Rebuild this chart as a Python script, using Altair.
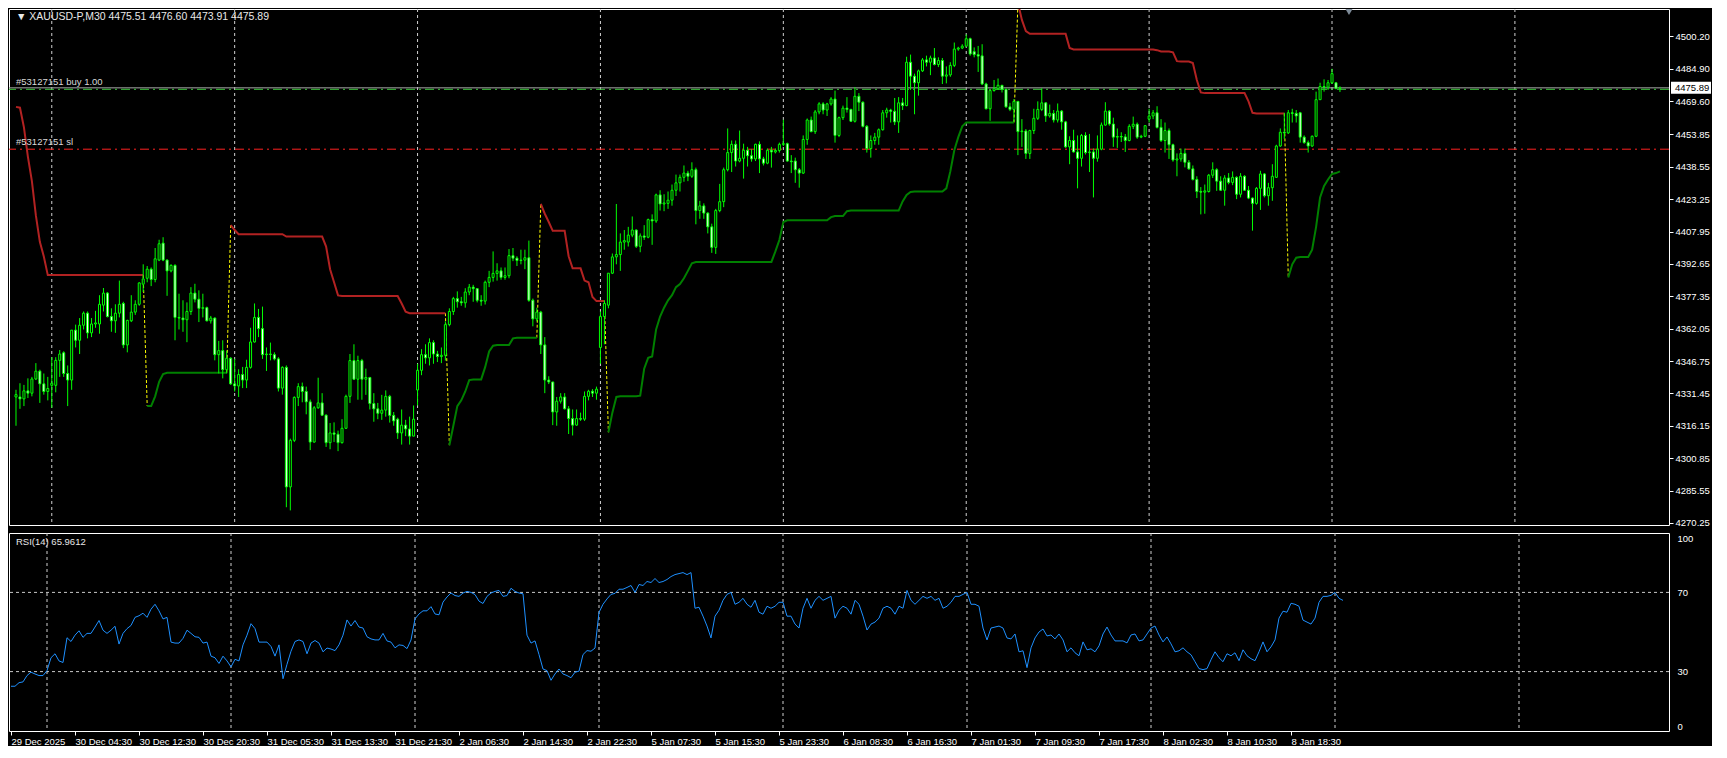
import json
import altair as alt
import pandas as pd

# ---------------- data ----------------
opens = [
4329.8,4329.8,4328.9,4332.7,4331.6,4338.3,4342.0,4336.0,4332.4,4335.3,
4335.3,4347.1,4350.7,4340.9,4337.8,4361.4,4356.6,4363.7,4369.4,4360.1,
4364.3,4364.3,4373.2,4378.9,4367.8,4365.8,4369.4,4374.0,4354.4,4365.8,
4369.9,4373.6,4383.1,4385.9,4390.2,4385.3,4394.5,4402.5,4394.5,4389.4,
4392.0,4367.4,4367.1,4366.3,4370.2,4378.9,4376.0,4371.7,4372.0,4365.8,
4367.1,4349.8,4351.7,4342.7,4348.1,4336.0,4335.0,4340.4,4337.8,4343.8,
4355.8,4367.4,4362.1,4349.8,4350.1,4349.8,4347.8,4334.0,4343.8,4287.3,
4309.3,4329.6,4334.7,4332.4,4327.5,4308.5,4324.7,4327.0,4321.2,4308.2,
4312.8,4312.2,4308.2,4315.0,4330.1,4347.0,4338.2,4347.0,4338.2,4339.0,
4326.7,4324.2,4322.1,4323.6,4330.1,4321.1,4319.3,4312.8,4316.5,4314.7,
4311.3,4333.1,4342.4,4349.8,4348.3,4355.5,4350.1,4348.9,4349.5,4364.0,
4370.2,4376.3,4374.8,4374.3,4379.4,4381.7,4381.0,4375.5,4375.1,4384.0,
4386.3,4388.2,4389.4,4386.3,4387.1,4396.6,4395.4,4394.3,4394.5,4395.6,
4375.5,4366.7,4369.9,4354.4,4337.8,4336.9,4322.7,4327.8,4329.8,4324.2,
4319.6,4316.5,4319.6,4319.3,4330.1,4332.5,4331.6,4353.2,4367.8,4373.2,
4388.3,4396.0,4397.1,4403.0,4403.0,4406.3,4408.7,4401.0,4405.9,4405.3,
4413.6,4413.0,4425.3,4421.0,4421.3,4422.8,4427.5,4431.0,4433.6,4435.6,
4434.1,4437.2,4417.9,4420.1,4416.7,4410.2,4400.5,4417.9,4422.1,4437.2,
4445.3,4449.2,4441.3,4442.6,4446.4,4443.8,4442.3,4449.2,4442.3,4440.3,
4446.4,4445.6,4446.3,4449.2,4449.5,4441.3,4441.3,4437.2,4435.6,4451.5,
4460.7,4455.2,4464.5,4468.3,4465.4,4468.3,4470.6,4453.4,4461.8,4466.3,
4465.7,4460.1,4471.9,4469.1,4457.7,4447.2,4451.0,4452.6,4456.1,4464.1,
4465.4,4464.8,4459.8,4468.8,4467.5,4488.0,4481.4,4478.3,4483.9,4489.1,
4488.0,4490.0,4486.9,4488.8,4481.4,4482.0,4486.5,4494.2,4494.7,4495.6,
4499.1,4493.0,4491.6,4491.0,4477.7,4466.0,4474.6,4475.5,4477.1,4475.2,
4466.9,4465.7,4469.5,4455.2,4455.5,4444.9,4455.7,4461.5,4465.7,4468.8,
4462.6,4463.8,4460.7,4464.9,4459.8,4448.0,4451.0,4445.6,4442.6,4453.4,
4445.3,4445.6,4442.6,4446.9,4458.3,4464.9,4458.8,4452.6,4452.9,4452.7,
4451.0,4457.7,4458.7,4452.6,4453.0,4461.1,4462.6,4464.1,4457.2,4451.0,
4455.7,4449.0,4441.8,4442.3,4444.9,4440.7,4437.6,4432.6,4426.9,4426.6,
4426.9,4434.6,4437.2,4431.8,4427.5,4433.3,4431.2,4433.6,4425.6,4434.1,
4427.5,4423.8,4421.3,4428.4,4435.2,4424.9,4428.7,4433.6,4448.4,4454.9,
4454.6,4464.1,4463.8,4464.1,4452.6,4450.0,4448.4,4453.0,4470.3,4476.5,
4476.2,4478.3,4478.3,4475.51]
highs = [
4333.2,4336.3,4335.5,4338.6,4339.3,4345.8,4342.7,4340.9,4339.3,4348.6,
4348.6,4352.0,4351.4,4344.7,4361.4,4364.0,4367.1,4370.2,4370.2,4367.1,
4370.5,4377.9,4381.3,4379.4,4371.7,4373.6,4384.8,4374.8,4366.3,4377.9,
4375.5,4384.0,4392.5,4391.7,4391.0,4400.2,4404.1,4405.3,4394.8,4392.5,
4392.5,4378.6,4375.5,4374.5,4381.7,4383.3,4380.2,4378.6,4372.5,4368.1,
4367.4,4356.3,4356.6,4351.7,4348.6,4347.8,4342.9,4344.0,4347.4,4362.5,
4374.0,4371.4,4372.5,4353.2,4355.5,4350.9,4348.6,4344.3,4344.7,4310.1,
4330.1,4336.3,4336.6,4334.7,4328.6,4325.5,4338.9,4331.6,4321.6,4317.5,
4317.8,4313.9,4319.3,4330.9,4350.1,4354.7,4349.3,4347.8,4343.2,4339.3,
4331.6,4327.0,4330.8,4332.9,4330.8,4322.7,4320.0,4323.9,4319.0,4320.5,
4325.8,4345.5,4352.4,4354.7,4357.5,4356.6,4351.6,4353.2,4365.5,4371.7,
4377.1,4379.7,4377.1,4381.2,4383.2,4382.8,4381.2,4377.9,4384.8,4389.4,
4398.6,4393.0,4391.0,4391.0,4399.7,4400.2,4396.3,4399.4,4399.4,4403.7,
4376.3,4372.0,4370.5,4358.1,4339.6,4336.9,4329.8,4331.6,4331.6,4325.5,
4323.9,4323.9,4322.4,4332.4,4333.2,4333.5,4334.7,4370.2,4375.5,4388.3,
4397.6,4421.0,4407.1,4408.7,4410.2,4415.1,4409.0,4407.1,4411.0,4414.1,
4416.1,4425.9,4427.5,4425.6,4426.9,4430.2,4434.9,4434.9,4439.2,4436.7,
4440.7,4438.2,4422.5,4421.3,4417.1,4411.7,4418.7,4430.5,4438.2,4456.7,
4451.0,4451.0,4455.7,4449.5,4448.0,4446.9,4449.5,4450.6,4443.3,4447.2,
4448.0,4447.2,4450.0,4460.8,4450.0,4444.1,4442.9,4438.0,4453.4,4461.4,
4462.3,4465.4,4469.1,4469.1,4468.8,4471.5,4474.6,4462.3,4467.5,4471.5,
4466.0,4476.2,4473.4,4469.5,4458.3,4453.4,4454.6,4456.7,4465.4,4466.5,
4466.0,4471.1,4471.5,4471.1,4490.6,4491.6,4482.6,4484.5,4490.0,4491.1,
4491.1,4494.7,4490.3,4490.0,4486.0,4488.0,4497.3,4495.3,4496.5,4501.1,
4499.6,4495.0,4495.7,4496.5,4478.3,4474.9,4479.6,4480.3,4477.2,4475.5,
4468.8,4470.6,4469.5,4461.1,4456.4,4456.1,4466.0,4469.5,4475.7,4469.1,
4468.0,4465.4,4468.5,4465.4,4460.3,4453.0,4456.1,4453.4,4454.1,4454.9,
4454.1,4447.2,4453.4,4459.5,4469.1,4465.4,4461.8,4456.7,4454.9,4454.1,
4458.7,4462.3,4459.5,4453.7,4458.3,4466.0,4465.4,4467.2,4461.1,4459.5,
4456.7,4449.5,4444.9,4447.2,4447.2,4441.8,4439.2,4434.1,4429.0,4430.2,
4435.2,4440.7,4437.9,4434.1,4434.6,4435.6,4436.4,4434.1,4435.6,4434.6,
4429.5,4424.1,4429.0,4436.7,4435.6,4431.0,4439.8,4449.0,4456.7,4464.1,
4465.4,4466.0,4465.4,4464.5,4453.4,4451.0,4453.4,4474.1,4478.3,4479.9,
4479.6,4484.9,4478.3,4476.60]
lows = [
4316.2,4324.2,4325.5,4329.3,4330.1,4337.8,4327.0,4330.9,4328.2,4324.7,
4332.0,4339.3,4339.3,4325.5,4333.2,4353.2,4350.1,4361.7,4357.5,4358.1,
4362.5,4359.7,4370.2,4367.4,4360.6,4360.1,4367.4,4352.9,4350.9,4365.2,
4368.6,4372.9,4379.4,4384.0,4382.2,4384.0,4394.0,4394.0,4377.6,4388.7,
4356.6,4361.7,4360.6,4355.7,4368.6,4374.5,4365.2,4367.4,4365.5,4364.5,
4347.1,4340.9,4338.6,4340.9,4335.5,4332.4,4329.8,4334.0,4334.0,4343.2,
4355.5,4358.1,4347.8,4342.1,4347.1,4347.1,4332.4,4330.9,4277.7,4276.2,
4308.5,4325.5,4327.3,4321.6,4304.7,4308.2,4324.2,4320.8,4306.2,4305.1,
4308.5,4304.2,4307.8,4314.7,4327.0,4337.8,4328.5,4328.5,4330.8,4323.9,
4318.1,4319.3,4319.0,4320.5,4317.7,4316.2,4310.0,4307.3,4311.3,4307.3,
4311.3,4325.8,4340.1,4345.5,4344.7,4345.5,4346.3,4345.8,4347.0,4363.2,
4368.6,4372.0,4372.9,4372.0,4377.9,4374.8,4374.5,4372.9,4373.5,4381.7,
4384.3,4384.8,4385.2,4385.2,4385.9,4394.0,4391.7,4392.5,4390.2,4374.8,
4363.2,4365.5,4350.1,4331.6,4335.9,4316.5,4316.2,4326.7,4323.9,4312.3,
4311.6,4316.2,4318.5,4318.5,4328.2,4329.8,4328.5,4345.5,4354.7,4371.7,
4387.9,4392.5,4389.4,4399.4,4400.9,4405.3,4400.2,4398.2,4404.0,4404.8,
4401.7,4412.1,4417.9,4417.6,4418.7,4420.2,4424.8,4426.9,4431.5,4431.8,
4433.3,4411.4,4414.0,4414.0,4407.1,4397.9,4397.4,4417.1,4419.5,4436.4,
4436.1,4438.7,4440.7,4433.0,4438.7,4441.0,4441.3,4435.6,4439.2,4439.8,
4438.2,4444.9,4445.3,4448.4,4441.0,4435.6,4431.0,4428.7,4435.2,4449.0,
4454.9,4454.1,4463.4,4463.4,4462.6,4467.5,4450.0,4452.6,4460.7,4464.2,
4459.8,4459.5,4464.9,4457.2,4445.3,4442.9,4449.0,4449.0,4455.7,4461.8,
4459.5,4458.3,4454.6,4465.4,4467.2,4474.9,4463.4,4472.2,4483.4,4486.0,
4481.9,4486.5,4485.7,4477.7,4478.0,4481.1,4485.7,4493.4,4494.2,4495.3,
4491.1,4490.3,4483.4,4477.2,4465.7,4460.3,4474.1,4474.9,4473.7,4466.5,
4464.9,4459.8,4444.1,4448.0,4442.3,4442.3,4454.1,4460.7,4464.9,4459.8,
4461.8,4459.5,4459.5,4456.1,4447.5,4439.8,4445.3,4428.4,4438.7,4444.4,
4436.1,4424.1,4441.0,4446.4,4458.0,4458.0,4448.0,4447.5,4450.3,4445.6,
4450.6,4456.4,4451.8,4452.1,4452.6,4459.5,4461.1,4456.7,4450.3,4445.3,
4442.3,4441.0,4434.1,4441.0,4438.3,4437.2,4432.1,4423.8,4416.1,4416.4,
4426.4,4433.3,4427.2,4427.2,4420.2,4430.3,4429.9,4423.3,4424.1,4427.2,
4423.3,4408.4,4420.7,4418.2,4424.1,4420.2,4422.5,4433.3,4448.0,4451.8,
4454.1,4459.5,4459.5,4450.0,4449.5,4445.3,4448.0,4452.6,4470.3,4474.1,
4474.9,4477.7,4475.2,4473.91]
closes = [
4330.9,4328.9,4332.7,4331.6,4338.3,4342.0,4336.0,4332.4,4333.8,4336.3,
4347.1,4350.1,4340.9,4337.8,4361.4,4356.6,4363.7,4369.4,4360.1,4364.3,
4364.8,4373.6,4378.9,4367.8,4365.8,4369.4,4373.6,4354.4,4366.0,4369.9,
4373.6,4383.7,4385.6,4390.2,4385.3,4395.1,4402.2,4394.5,4389.4,4392.0,
4367.4,4367.1,4366.3,4370.2,4378.9,4376.0,4371.7,4372.0,4365.8,4367.1,
4349.8,4351.7,4342.7,4348.1,4336.0,4335.0,4340.4,4337.8,4343.8,4355.8,
4367.4,4362.1,4349.8,4350.1,4349.9,4347.8,4334.0,4343.8,4287.3,4309.3,
4329.6,4334.7,4332.4,4327.5,4308.5,4324.7,4327.0,4321.2,4308.2,4312.8,
4312.2,4308.2,4315.0,4330.1,4347.0,4338.2,4347.0,4338.2,4339.0,4326.7,
4324.2,4322.1,4323.6,4330.1,4321.1,4318.5,4312.8,4316.5,4314.7,4311.3,
4319.3,4342.4,4349.8,4348.3,4355.5,4350.1,4348.9,4349.5,4364.0,4370.2,
4376.3,4374.8,4374.3,4379.4,4381.7,4381.0,4375.5,4375.1,4384.0,4386.3,
4388.2,4389.4,4386.3,4387.1,4396.6,4395.4,4394.3,4394.5,4395.6,4375.5,
4366.7,4369.9,4354.4,4337.8,4336.9,4322.7,4327.8,4329.8,4324.2,4319.6,
4316.5,4319.6,4319.3,4330.1,4332.5,4331.6,4333.5,4367.8,4374.0,4388.3,
4396.0,4397.1,4403.0,4403.7,4406.3,4408.7,4401.0,4405.9,4405.3,4413.6,
4413.0,4425.3,4421.0,4421.5,4422.8,4427.5,4431.0,4433.6,4435.6,4434.1,
4437.2,4417.9,4420.1,4416.7,4410.2,4400.5,4417.9,4422.1,4437.2,4445.3,
4449.2,4441.3,4442.6,4446.4,4443.8,4442.3,4449.2,4442.3,4440.3,4446.4,
4445.6,4446.3,4449.2,4449.5,4441.3,4441.0,4437.2,4435.6,4451.5,4460.7,
4455.2,4464.5,4468.3,4465.4,4468.3,4470.6,4453.4,4461.8,4466.3,4465.7,
4460.1,4471.9,4469.1,4457.7,4447.2,4451.0,4452.6,4456.1,4464.1,4465.4,
4464.8,4459.8,4468.8,4467.5,4488.0,4481.4,4478.3,4483.9,4489.1,4488.0,
4490.0,4486.9,4488.8,4481.4,4482.0,4486.5,4494.2,4494.7,4495.6,4499.1,
4491.9,4491.6,4490.9,4477.7,4466.0,4474.6,4475.5,4477.1,4475.2,4466.9,
4465.7,4469.5,4455.2,4455.5,4444.9,4455.7,4461.5,4465.7,4468.8,4462.6,
4463.8,4460.7,4464.9,4459.8,4448.0,4451.0,4445.6,4442.6,4453.4,4445.3,
4445.6,4442.6,4446.9,4458.3,4464.9,4458.8,4452.6,4452.9,4452.7,4451.0,
4457.7,4458.7,4452.6,4453.0,4458.0,4462.6,4464.1,4457.2,4451.0,4455.7,
4449.0,4441.8,4442.3,4444.9,4440.7,4437.6,4432.6,4426.9,4426.6,4427.2,
4434.6,4437.2,4431.8,4427.5,4433.3,4431.2,4433.6,4425.6,4434.1,4427.5,
4423.8,4421.3,4428.4,4435.2,4424.9,4428.7,4434.1,4448.4,4454.9,4454.6,
4464.1,4463.8,4462.6,4452.6,4450.0,4448.4,4453.0,4470.3,4476.5,4476.2,
4478.3,4482.6,4475.7,4475.89]

rsi_values = [
22.6,22.6,24.4,24.8,28.0,29.7,28.8,28.0,28.0,30.5,
37.0,39.0,35.4,34.6,47.1,45.2,48.4,50.6,47.3,49.3,
49.3,52.5,55.8,50.9,49.3,50.9,52.9,43.9,49.3,51.7,
53.3,57.4,58.2,59.5,57.4,61.5,64.0,60.7,56.6,57.4,
44.9,44.4,44.4,46.8,50.9,49.3,47.6,47.3,44.4,44.9,
37.8,37.0,34.1,37.8,35.4,32.4,36.2,35.4,43.5,48.4,
54.2,51.7,44.9,44.9,44.9,42.7,37.8,43.5,26.4,33.7,
40.3,45.2,46.0,45.2,39.0,44.4,45.7,44.4,40.0,41.9,
41.4,40.6,43.5,48.4,56.1,53.0,55.8,52.5,52.0,47.6,
46.5,46.0,46.0,49.3,45.5,44.9,42.0,43.5,43.2,41.6,
46.0,56.6,59.1,60.7,60.7,62.8,59.1,58.7,65.1,67.7,
69.7,68.4,68.0,69.7,70.5,70.0,68.9,65.6,64.4,68.0,
69.7,70.5,71.0,68.0,68.4,72.1,70.5,69.7,69.3,48.4,
44.4,45.5,38.6,31.3,30.5,25.6,28.8,31.3,28.8,28.0,
26.9,29.7,30.2,38.6,40.6,40.3,41.9,59.9,64.0,66.7,
69.0,69.5,71.6,71.6,72.5,73.5,70.0,74.0,73.5,75.5,
75.0,77.0,75.0,75.5,76.5,78.0,79.0,79.5,80.0,79.0,
80.0,62.0,62.5,58.0,53.0,47.0,58.0,61.0,66.0,69.0,
70.0,64.0,65.0,67.0,64.0,62.5,66.0,60.0,59.0,63.0,
62.0,63.0,65.0,65.0,58.0,58.0,54.0,52.0,62.0,67.0,
62.0,66.0,68.0,66.0,67.0,68.0,57.0,61.0,63.0,62.0,
59.0,66.0,64.0,58.0,51.0,54.0,55.0,57.0,62.0,63.0,
62.0,59.0,63.0,62.0,71.0,66.0,64.0,66.0,68.0,67.0,
68.0,66.0,67.0,62.0,63.0,65.0,68.0,68.0,69.0,70.0,
64.0,64.0,63.0,52.0,46.0,52.0,52.5,53.0,52.0,47.0,
46.5,49.0,40.0,40.5,32.0,42.0,47.0,50.0,51.5,48.0,
48.5,46.5,49.0,46.0,40.0,42.0,39.5,38.0,45.0,41.0,
41.5,40.0,43.0,49.0,52.5,48.5,45.5,45.5,45.5,44.5,
48.5,49.0,45.5,46.0,49.0,52.0,53.0,48.5,45.0,47.5,
44.0,40.0,40.5,42.0,40.0,38.5,35.0,31.5,31.0,31.5,
36.0,40.0,37.0,35.0,39.0,38.0,39.5,35.5,41.0,38.0,
36.5,35.5,40.0,45.0,40.0,42.5,46.0,57.0,60.5,60.0,
64.5,64.0,63.0,56.0,55.0,54.0,57.0,65.0,68.0,68.0,
68.5,70.0,67.0,65.96]

# trailing-stop indicator: (first bar, [(value, number of bars), ...])
red_runs = [
    (0, [(4466.9, 1), (4466.5, 1), (4457.2, 1), (4443.3, 1), (4431.8, 1), (4415.6, 1),
         (4403.1, 1), (4396.2, 1), (4387.4, 25)]),
    (54, [(4411.0, 1), (4408.7, 1), (4406.7, 12), (4405.6, 10), (4400.9, 1), (4390.2, 1),
          (4384.0, 1), (4377.8, 1), (4377.5, 15), (4374.0, 1), (4370.1, 1), (4369.4, 10)]),
    (132, [(4421.0, 1), (4416.4, 1), (4412.5, 1), (4408.3, 4), (4396.3, 1), (4390.6, 3),
           (4384.8, 1), (4384.0, 1), (4377.1, 1), (4375.1, 3)]),
    (252, [(4516.0, 1), (4508.0, 1), (4502.7, 1), (4501.4, 10), (4494.7, 1), (4494.0, 21),
           (4493.7, 1), (4493.1, 3), (4492.7, 1), (4488.5, 1), (4488.3, 3), (4487.6, 1),
           (4479.6, 1), (4473.7, 1), (4473.4, 11), (4469.5, 1), (4464.1, 1), (4463.8, 8)]),
]
green_runs = [
    (33, [(4325.5, 2), (4330.1, 1), (4337.0, 1), (4340.6, 1), (4341.2, 16)]),
    (109, [(4307.0, 1), (4316.2, 1), (4325.5, 1), (4328.2, 1), (4332.4, 1), (4337.8, 1),
           (4338.1, 3), (4343.9, 1), (4351.3, 1), (4354.0, 1), (4354.4, 4), (4357.5, 1),
           (4357.8, 6)]),
    (149, [(4313.1, 1), (4322.4, 1), (4329.8, 1), (4330.1, 5), (4330.4, 1), (4343.2, 1),
           (4348.3, 1), (4348.9, 1), (4361.7, 1), (4367.8, 1), (4372.0, 1), (4375.5, 1),
           (4377.9, 1), (4381.7, 1), (4383.2, 1), (4385.9, 1), (4389.4, 1), (4393.0, 1),
           (4393.6, 20), (4398.6, 1), (4404.0, 1), (4412.5, 1), (4413.3, 11), (4414.8, 1),
           (4415.3, 3), (4417.6, 1), (4417.9, 13), (4422.2, 1), (4425.3, 1), (4426.7, 1),
           (4426.9, 8), (4428.4, 1), (4436.4, 1), (4446.4, 1), (4452.6, 1), (4457.7, 1),
           (4459.5, 13)]),
    (320, [(4386.3, 1), (4392.5, 1), (4395.6, 1), (4395.9, 3), (4399.4, 1), (4410.2, 1),
           (4424.1, 1), (4429.5, 1), (4432.6, 1), (4435.2, 1), (4435.6, 1), (4436.4, 1)]),
]

time_labels = ["29 Dec 2025", "30 Dec 04:30", "30 Dec 12:30", "30 Dec 20:30", "31 Dec 05:30",
               "31 Dec 13:30", "31 Dec 21:30", "2 Jan 06:30", "2 Jan 14:30", "2 Jan 22:30",
               "5 Jan 07:30", "5 Jan 15:30", "5 Jan 23:30", "6 Jan 08:30", "6 Jan 16:30",
               "7 Jan 01:30", "7 Jan 09:30", "7 Jan 17:30", "8 Jan 02:30", "8 Jan 10:30",
               "8 Jan 18:30"]
price_ticks = [4500.20, 4484.90, 4469.60, 4453.85, 4438.55, 4423.25, 4407.95, 4392.65,
               4377.35, 4362.05, 4346.75, 4331.45, 4316.15, 4300.85, 4285.55, 4270.25]
rsi_ticks = [0, 30, 70, 100]
rsi_levels = [30, 70]
bid_price = [4475.89]
buy_price = [4475.2]
sl_price = [4446.9]
title_text = "\u25BC XAUUSD-P,M30  4475.51 4476.60 4473.91 4475.89"
rsi_text = "RSI(14) 65.9612"
buy_text = "#53127151 buy 1.00"
sl_text = "#53127151 sl"

# ---------------- layout ----------------
W = 1660
HM = 516
HR = 198
FONT = "Liberation Sans"
FS = 9.5
WHITE = "#ffffff"
LIME = "#00ff00"

xs = alt.Scale(domain=[-0.5, 414.5], nice=False, zero=False)
ys = alt.Scale(domain=[4269.3, 4513.15], nice=False, zero=False)
rs = alt.Scale(domain=[0, 100], nice=False, zero=False)

n = len(closes)
candles = pd.DataFrame({"bar": list(range(n)), "open": opens, "high": highs,
                        "low": lows, "close": closes})


def expand(runs_list, kind):
    segs = []
    for k, (start, runs) in enumerate(runs_list):
        rows = []
        b = start
        for v, cnt in runs:
            for _ in range(cnt):
                rows.append({"bar": b, "value": v, "seg": f"{kind}{k}"})
                b += 1
        segs.append(rows)
    return segs


red_segs = expand(red_runs, "r")
green_segs = expand(green_runs, "g")
ind_df = pd.DataFrame([r for s in red_segs + green_segs for r in s])
red_df = ind_df[ind_df.seg.str.startswith("r")]
green_df = ind_df[ind_df.seg.str.startswith("g")]

all_segs = sorted(red_segs + green_segs, key=lambda s: s[0]["bar"])
sw_rows = []
for k in range(1, len(all_segs)):
    a = all_segs[k - 1][-1]
    b = all_segs[k][0]
    sw_rows.append({"bar": a["bar"], "value": a["value"], "seg": f"s{k}"})
    sw_rows.append({"bar": b["bar"], "value": b["value"], "seg": f"s{k}"})
switch_df = pd.DataFrame(sw_rows)

grid_df = pd.DataFrame({"bar": list(range(9, 415, 46))})
label_bars = [16 * i for i in range(len(time_labels))]
label_map = {str(b): t for b, t in zip(label_bars, time_labels)}

yax = alt.Axis(orient="right", values=price_ticks, format=".2f", title=None, grid=False,
               domain=False, tickColor=WHITE, tickSize=4, labelColor=WHITE,
               labelPadding=2, labelFont=FONT, labelFontSize=FS, labelAlign="left")
X_main = alt.X("bar:Q", scale=xs, axis=None)

grid_main = alt.Chart(grid_df).mark_rule(color="#d0d0d0", strokeDash=[3, 3], strokeWidth=1).encode(x=X_main)

sl_line = alt.Chart(pd.DataFrame({"p": sl_price})).mark_rule(
    color="#ff2020", strokeDash=[9, 4, 2, 4], strokeWidth=1).encode(y=alt.Y("p:Q", scale=ys, axis=yax))
bid_line = alt.Chart(pd.DataFrame({"p": bid_price})).mark_rule(
    color="#a8a8a8", strokeWidth=1).encode(y=alt.Y("p:Q", scale=ys, axis=yax))
buy_line = alt.Chart(pd.DataFrame({"p": buy_price})).mark_rule(
    color="#3cc83c", strokeDash=[9, 4, 2, 4], strokeWidth=1).encode(y=alt.Y("p:Q", scale=ys, axis=yax))

switch_lines = alt.Chart(switch_df).mark_line(color="#ffff00", strokeDash=[3, 2], strokeWidth=1, clip=True).encode(
    x=X_main, y=alt.Y("value:Q", scale=ys, axis=yax), detail="seg:N")
red_lines = alt.Chart(red_df).mark_line(color="#b22222", strokeWidth=2, clip=True).encode(
    x=X_main, y=alt.Y("value:Q", scale=ys, axis=yax), detail="seg:N")
green_lines = alt.Chart(green_df).mark_line(color="#008000", strokeWidth=2, clip=True).encode(
    x=X_main, y=alt.Y("value:Q", scale=ys, axis=yax), detail="seg:N")

wicks = alt.Chart(candles).mark_rule(color=LIME, strokeWidth=1).encode(
    x=X_main, y=alt.Y("low:Q", scale=ys, axis=yax), y2="high:Q")
bodies = alt.Chart(candles).mark_bar(size=2, stroke=LIME, strokeWidth=1).encode(
    x=X_main, y=alt.Y("open:Q", scale=ys, axis=yax), y2="close:Q",
    fill=alt.condition("datum.close >= datum.open", alt.value("#000000"), alt.value("#ffffff")))

title_mark = alt.Chart(pd.DataFrame({"t": [title_text]})).mark_text(
    align="left", baseline="middle", color="#e8e8e8", font=FONT, fontSize=10.5).encode(
    text="t:N", x=alt.value(7), y=alt.value(8))
buy_label = alt.Chart(pd.DataFrame({"p": buy_price, "t": [buy_text]})).mark_text(
    align="left", baseline="bottom", dy=-2, color="#d8d8d8", font=FONT, fontSize=FS).encode(
    text="t:N", x=alt.value(7), y=alt.Y("p:Q", scale=ys, axis=yax))
sl_label = alt.Chart(pd.DataFrame({"p": sl_price, "t": [sl_text]})).mark_text(
    align="left", baseline="bottom", dy=-2, color="#d8d8d8", font=FONT, fontSize=FS).encode(
    text="t:N", x=alt.value(7), y=alt.Y("p:Q", scale=ys, axis=yax))

bid_box = alt.Chart(pd.DataFrame({"p": bid_price})).mark_rect(
    color="#ffffff", yOffset=-6, y2Offset=6).encode(
    x=alt.value(W + 2), x2=alt.value(W + 42), y=alt.Y("p:Q", scale=ys, axis=yax), y2="p:Q")
bid_text = alt.Chart(pd.DataFrame({"p": bid_price})).mark_text(
    align="left", baseline="middle", color="#000000", font=FONT, fontSize=FS).encode(
    text=alt.Text("p:Q", format=".2f"), x=alt.value(W + 6), y=alt.Y("p:Q", scale=ys, axis=yax))
shift_marker = alt.Chart(pd.DataFrame({"k": [0]})).mark_point(
    shape="triangle-down", filled=True, color="#7f8c99", size=50, opacity=1).encode(
    x=alt.value(1340), y=alt.value(3))

main = alt.layer(grid_main, sl_line, bid_line, buy_line, switch_lines, red_lines, green_lines,
                 wicks, bodies, title_mark, buy_label, sl_label, bid_box, bid_text,
                 shift_marker).properties(width=W, height=HM)

# ---------------- RSI panel ----------------
rsi_df = pd.DataFrame({"bar": list(range(n)), "rsi": rsi_values})
xax = alt.Axis(values=label_bars, labelExpr=f"{json.dumps(label_map)}[''+datum.value]",
               title=None, grid=False, domain=False, tickColor=WHITE, tickSize=4,
               labelColor=WHITE, labelAlign="left", labelBaseline="top", labelPadding=1,
               labelFont=FONT, labelFontSize=FS, labelOverlap=False, labelBound=False,
               labelFlush=False)
rax = alt.Axis(orient="right", values=rsi_ticks, title=None, grid=False, domain=False,
               ticks=False, labelColor=WHITE, labelPadding=8, labelFlush=True,
               labelFont=FONT, labelFontSize=FS, labelAlign="left")
X_rsi = alt.X("bar:Q", scale=xs, axis=xax)

grid_rsi = alt.Chart(grid_df).mark_rule(color="#d0d0d0", strokeDash=[3, 3], strokeWidth=1).encode(x=X_rsi)
lvl = alt.Chart(pd.DataFrame({"v": rsi_levels})).mark_rule(
    color="#c8c8c8", strokeDash=[3, 3], strokeWidth=1).encode(y=alt.Y("v:Q", scale=rs, axis=rax))
rsi_line = alt.Chart(rsi_df).mark_line(color="#1e90ff", strokeWidth=1).encode(
    x=X_rsi, y=alt.Y("rsi:Q", scale=rs, axis=rax))
rsi_label = alt.Chart(pd.DataFrame({"t": [rsi_text]})).mark_text(
    align="left", baseline="middle", color="#e8e8e8", font=FONT, fontSize=FS).encode(
    text="t:N", x=alt.value(7), y=alt.value(9))

rsi_panel = alt.layer(grid_rsi, lvl, rsi_line, rsi_label).properties(width=W, height=HR)

chart = alt.vconcat(main, rsi_panel, spacing=4).properties(
    padding=0, background="#000000"
).configure_view(stroke=WHITE, strokeWidth=1)

chart.save("out.html", embed_options={"renderer": "svg", "actions": False})
